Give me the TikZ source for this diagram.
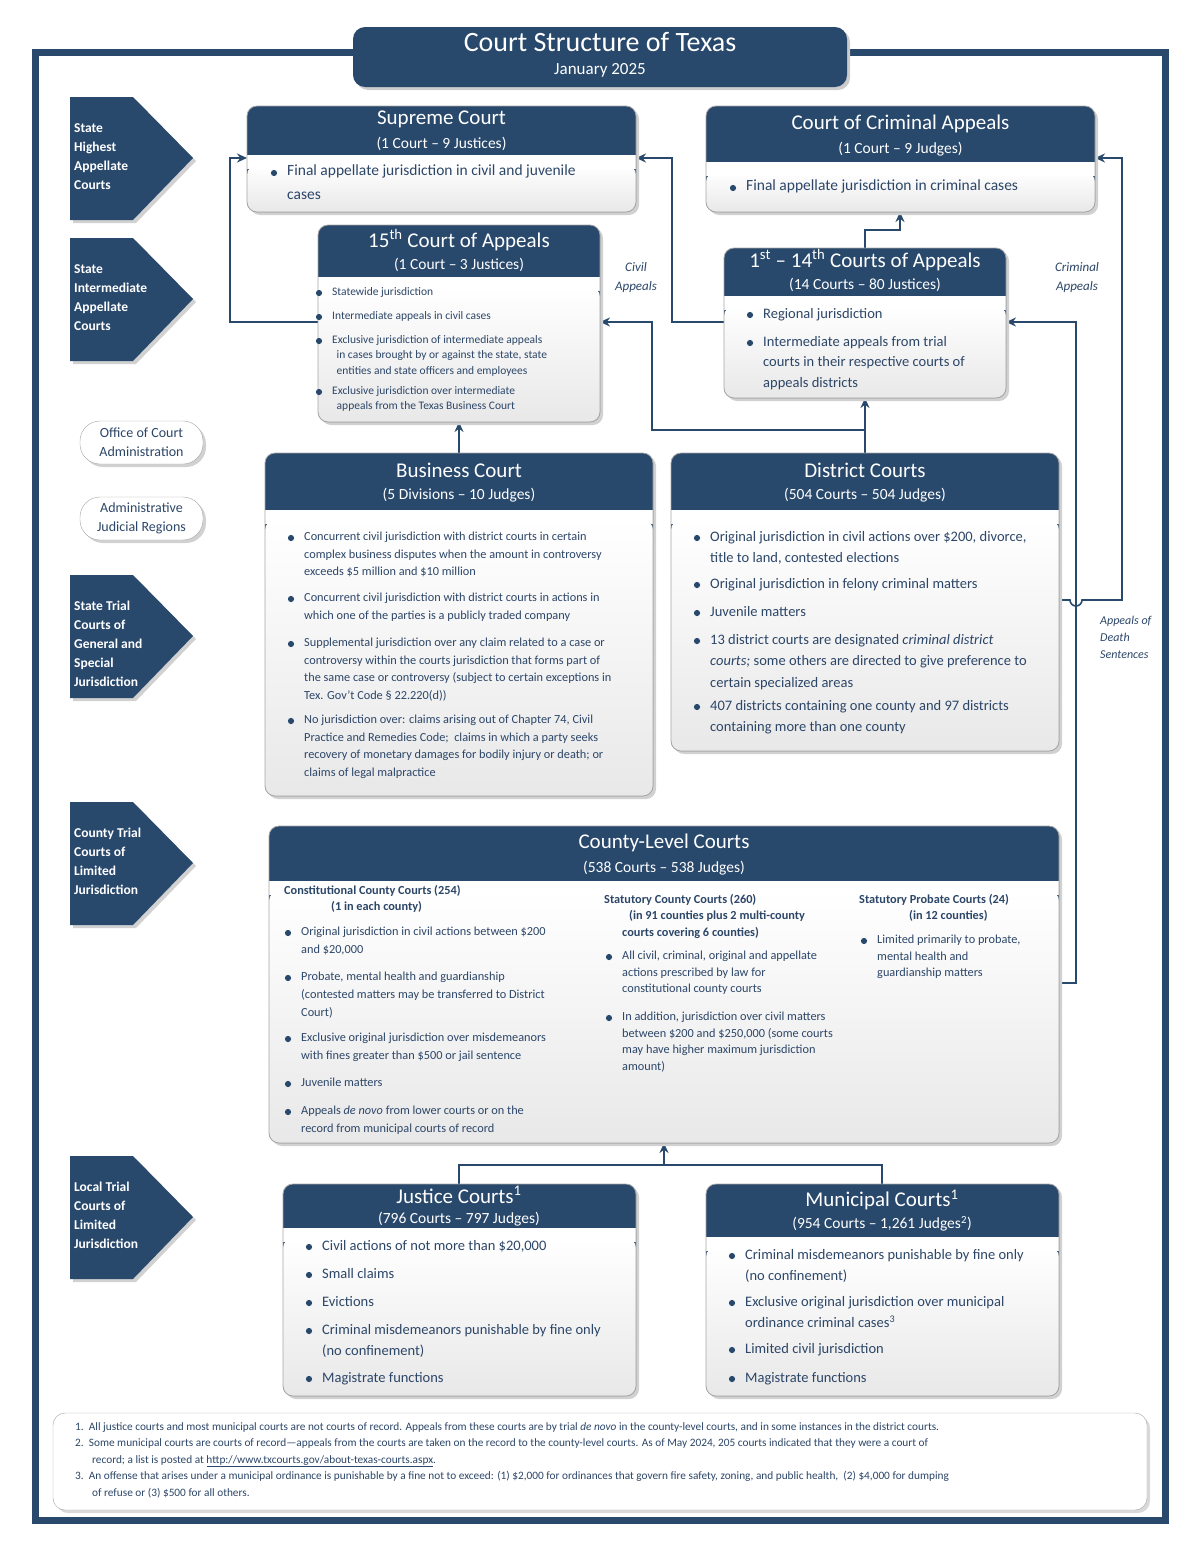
\documentclass[tikz,border=0pt]{standalone}
\usepackage{fontspec}
\setmainfont{Carlito}
\usetikzlibrary{arrows.meta}
\definecolor{hdr}{RGB}{40,72,108}
\definecolor{txc}{RGB}{44,70,104}
\tikzset{
 arr/.style={draw=hdr,line width=1.6pt,-{Stealth[length=10pt,width=9pt]}},
 ln/.style={draw=hdr,line width=1.6pt},
 tx/.style={inner sep=0pt,text=txc,align=left,anchor=north west},
 ht/.style={text=white,inner sep=0pt},
 chev/.style={fill=hdr},
}
% bullet: x y offset font text
\newcommand\bl[5]{\fill[hdr] ({#1-13},{#2}) circle (3.1);
 \node[tx,font=#4] at ({#1},{#2-#3}) {#5};}
\newcommand\cbox[5]{%
 \fill[black!18,rounded corners=10] ({#1+3},{#2+3}) rectangle ({#4+3},{#5+3});
 \fill[hdr,rounded corners=10] (#1,#2) rectangle (#4,#5);
 \shade[top color=white,bottom color=black!9,rounded corners=10] (#1,{#3+10}) rectangle (#4,#5);
 \fill[white] (#1,#3) rectangle (#4,{#3+14});
 \draw[black!35,line width=0.8pt,rounded corners=10] (#1,#2) rectangle (#4,#5);}
\newcommand\chv[2]{%
 \fill[black!18] (73,{#1+3}) -- (136,{#1+3}) -- (196,{#1+64}) -- (136,{#1+126}) -- (73,{#1+126}) -- cycle;
 \fill[hdr] (70,#1) -- (133,#1) -- (193,{#1+61}) -- (133,{#1+123}) -- (70,{#1+123}) -- cycle;
 \node[ht,anchor=north west,align=left,font=\fontsize{13.5}{19}\selectfont\bfseries] at (74,{#1+26}) {#2};}
\begin{document}
\begin{tikzpicture}[x=1pt,y=-1pt]
\useasboundingbox (0,0) rectangle (1200,1553);
% outer frame
\draw[hdr,line width=7pt] (35,52) rectangle (1165,1520);
% title
\fill[black!20,rounded corners=12] (356,30) rectangle (850,90);
\fill[hdr,rounded corners=12] (353,27) rectangle (847,87);
\node[ht,font=\fontsize{28}{30}\selectfont] (title) at (600,42) {Court Structure of Texas};
\node[ht,font=\fontsize{17}{20}\selectfont] (date) at (600,70) {January 2025};
% chevrons
\chv{97}{State\\Highest\\Appellate\\Courts}
\chv{238}{State\\Intermediate\\Appellate\\Courts}
\chv{575}{State Trial\\Courts of\\General and\\Special\\Jurisdiction}
\chv{802}{County Trial\\Courts of\\Limited\\Jurisdiction}
\chv{1156}{Local Trial\\Courts of\\Limited\\Jurisdiction}
% ovals
\foreach \yy/\t/\nm in {421/{Office of Court\\Administration}/oca,497/{Administrative\\Judicial Regions}/ajr}{
 \fill[black!18,rounded corners=20] (83,\yy+3) rectangle (206,\yy+46);
 \draw[black!35,fill=white,rounded corners=20] (80,\yy) rectangle (203,\yy+43);
 \node[text=txc,align=center,font=\fontsize{14}{19}\selectfont,inner sep=0] (\nm) at (141.5,\yy+21.5) {\t};}
% ===== connectors
\coordinate (sc) at (247,158); \coordinate (scr) at (636,158);
\coordinate (cca) at (1095,158); \coordinate (ccab) at (900,212);
\draw[arr] (318,322) -- (230,322) -- (230,158) -- (sc);
\draw[arr] (724,322) -- (672,322) -- (672,158) -- (scr);
\draw[arr] (865,248) -- (865,230) -- (900,230) -- (ccab);
\draw[arr] (865,453) -- (865,398);
\draw[arr] (865,430) -- (652,430) -- (652,322) -- (600,322);
\draw[arr] (459,453) -- (459,422);
\draw[arr] (1059,600) -- (1070,600) arc (180:0:6) -- (1122,600) -- (1122,158) -- (cca);
\draw[arr] (1059,983) -- (1076,983) -- (1076,322) -- (1006,322);
\draw[ln] (459,1184) -- (459,1165) -- (882,1165) -- (882,1184);
\draw[arr] (664,1165) -- (664,1143);
% side labels
\node[text=txc,align=center,font=\fontsize{13}{19}\selectfont\itshape,inner sep=0] (civ) at (636,278) {Civil\\Appeals};
\node[text=txc,align=center,font=\fontsize{13}{19}\selectfont\itshape,inner sep=0] (crim) at (1077,278) {Criminal\\Appeals};
\node[tx,font=\fontsize{12}{17}\selectfont\itshape] (death) at (1100,616) {Appeals of\\Death\\Sentences};
% ===== Supreme
\cbox{247}{106}{155}{636}{212}
\node[ht,font=\fontsize{21}{24}\selectfont] (supT) at (441.5,119) {Supreme Court};
\node[ht,font=\fontsize{15.5}{18}\selectfont] at (441.5,144) {(1 Court -- 9 Justices)};
\def\fA{\fontsize{15.5}{24}\selectfont}
\bl{287}{173}{8}{\fA}{Final appellate jurisdiction in civil and juvenile\\cases}
% ===== CCA
\cbox{706}{106}{162}{1095}{212}
\node[ht,font=\fontsize{21}{24}\selectfont] (ccaT) at (900.5,124) {Court of Criminal Appeals};
\node[ht,font=\fontsize{15.5}{18}\selectfont] at (900.5,149) {(1 Court -- 9 Judges)};
\bl{746}{188}{8}{\fA}{Final appellate jurisdiction in criminal cases}
% ===== 15th
\cbox{318}{225}{277}{600}{422}
\node[ht,font=\fontsize{21}{24}\selectfont] (fT) at (459,240) {15\textsuperscript{th} Court of Appeals};
\node[ht,font=\fontsize{15.5}{18}\selectfont] at (459,265) {(1 Court -- 3 Justices)};
\def\fB{\fontsize{11.5}{15.5}\selectfont}
\bl{332}{293}{6}{\fB}{Statewide jurisdiction}
\bl{332}{317}{6}{\fB}{Intermediate appeals in civil cases}
\bl{332}{341}{6}{\fB}{Exclusive jurisdiction of intermediate appeals\\\ \,in cases brought by or against the state, state\\\ \,entities and state officers and employees}
\bl{332}{392}{6}{\fB}{Exclusive jurisdiction over intermediate\\\ \,appeals from the Texas Business Court}
% ===== 1st-14th
\cbox{724}{248}{296}{1006}{398}
\node[ht,font=\fontsize{21}{24}\selectfont] (aT) at (865,260) {1\textsuperscript{st} -- 14\textsuperscript{th} Courts of Appeals};
\node[ht,font=\fontsize{15.5}{18}\selectfont] at (865,285) {(14 Courts -- 80 Justices)};
\def\fC{\fontsize{14.5}{20.5}\selectfont}
\bl{763}{315}{7}{\fC}{Regional jurisdiction}
\bl{763}{343}{7}{\fC}{Intermediate appeals from trial\\courts in their respective courts of\\appeals districts}
% ===== Business
\cbox{265}{453}{510}{653}{796}
\node[ht,font=\fontsize{21}{24}\selectfont] (bT) at (459,470) {Business Court};
\node[ht,font=\fontsize{15.5}{18}\selectfont] at (459,495) {(5 Divisions -- 10 Judges)};
\def\fD{\fontsize{12.3}{17.5}\selectfont}
\bl{304}{538}{6}{\fD}{Concurrent civil jurisdiction with district courts in certain\\complex business disputes when the amount in controversy\\exceeds \$5 million and \$10 million}
\bl{304}{599}{6}{\fD}{Concurrent civil jurisdiction with district courts in actions in\\which one of the parties is a publicly traded company}
\bl{304}{644}{6}{\fD}{Supplemental jurisdiction over any claim related to a case or\\controversy within the courts jurisdiction that forms part of\\the same case or controversy (subject to certain exceptions in\\Tex. Gov't Code § 22.220(d))}
\bl{304}{721}{6}{\fD}{No jurisdiction over: claims arising out of Chapter 74, Civil\\Practice and Remedies Code;\ \ claims in which a party seeks\\recovery of monetary damages for bodily injury or death; or\\claims of legal malpractice}
% ===== District
\cbox{671}{453}{510}{1059}{751}
\node[ht,font=\fontsize{21}{24}\selectfont] (dT) at (865,470) {District Courts};
\node[ht,font=\fontsize{15.5}{18}\selectfont] at (865,495) {(504 Courts -- 504 Judges)};
\def\fE{\fontsize{14.5}{21.5}\selectfont}
\bl{710}{538}{7}{\fE}{Original jurisdiction in civil actions over \$200, divorce,\\title to land, contested elections}
\bl{710}{585}{7}{\fE}{Original jurisdiction in felony criminal matters}
\bl{710}{613}{7}{\fE}{Juvenile matters}
\bl{710}{641}{7}{\fE}{13 district courts are designated \textit{criminal district}\\\textit{courts;} some others are directed to give preference to\\certain specialized areas}
\bl{710}{707}{7}{\fE}{407 districts containing one county and 97 districts\\containing more than one county}
% ===== County
\cbox{269}{826}{881}{1059}{1143}
\node[ht,font=\fontsize{21}{24}\selectfont] (cT) at (664,843) {County-Level Courts};
\node[ht,font=\fontsize{15.5}{18}\selectfont] at (664,868) {(538 Courts -- 538 Judges)};
\def\fF{\fontsize{12.3}{18}\selectfont}
\def\fG{\fontsize{12.3}{16.5}\selectfont\bfseries}
\node[tx,font=\fG] (c1) at (284,885) {Constitutional County Courts (254)\\\hspace*{47pt}(1 in each county)};
\bl{301}{933}{6}{\fF}{Original jurisdiction in civil actions between \$200\\and \$20,000}
\bl{301}{978}{6}{\fF}{Probate, mental health and guardianship\\(contested matters may be transferred to District\\Court)}
\bl{301}{1039}{6}{\fF}{Exclusive original jurisdiction over misdemeanors\\with fines greater than \$500 or jail sentence}
\bl{301}{1084}{6}{\fF}{Juvenile matters}
\bl{301}{1112}{6}{\fF}{Appeals \textit{de novo} from lower courts or on the\\record from municipal courts of record}
\node[tx,font=\fG] (c2) at (604,894) {Statutory County Courts (260)\\\hspace*{25pt}(in 91 counties plus 2 multi-county\\\hspace*{18pt}courts covering 6 counties)};
\def\fH{\fontsize{12.3}{16.5}\selectfont}
\bl{622}{957}{6}{\fH}{All civil, criminal, original and appellate\\actions prescribed by law for\\constitutional county courts}
\bl{622}{1018}{6}{\fH}{In addition, jurisdiction over civil matters\\between \$200 and \$250,000 (some courts\\may have higher maximum jurisdiction\\amount)}
\node[tx,font=\fG] (c3) at (859,894) {Statutory Probate Courts (24)\\\hspace*{50pt}(in 12 counties)};
\bl{877}{941}{6}{\fH}{Limited primarily to probate,\\mental health and\\guardianship matters}
% ===== Justice
\cbox{283}{1184}{1228}{636}{1396}
\node[ht,font=\fontsize{21}{24}\selectfont] (jT) at (459,1195) {Justice Courts\textsuperscript{1}};
\node[ht,font=\fontsize{15.5}{18}\selectfont] at (459,1219) {(796 Courts -- 797 Judges)};
\def\fI{\fontsize{14.5}{21.5}\selectfont}
\bl{322}{1247}{7}{\fI}{Civil actions of not more than \$20,000}
\bl{322}{1275}{7}{\fI}{Small claims}
\bl{322}{1303}{7}{\fI}{Evictions}
\bl{322}{1331}{7}{\fI}{Criminal misdemeanors punishable by fine only\\(no confinement)}
\bl{322}{1379}{7}{\fI}{Magistrate functions}
% ===== Municipal
\cbox{706}{1184}{1237}{1059}{1396}
\node[ht,font=\fontsize{21}{24}\selectfont] (mT) at (882,1200) {Municipal Courts\textsuperscript{1}};
\node[ht,font=\fontsize{15.5}{18}\selectfont] at (882,1224) {(954 Courts -- 1,261 Judges\textsuperscript{2})};
\bl{745}{1256}{7}{\fI}{Criminal misdemeanors punishable by fine only\\(no confinement)}
\bl{745}{1303}{7}{\fI}{Exclusive original jurisdiction over municipal\\ordinance criminal cases\textsuperscript{3}}
\bl{745}{1350}{7}{\fI}{Limited civil jurisdiction}
\bl{745}{1379}{7}{\fI}{Magistrate functions}
% ===== footnotes
\fill[black!15,rounded corners=12] (56,1416) rectangle (1150,1513);
\draw[black!35,fill=white,rounded corners=12] (53,1413) rectangle (1147,1510);
\node[tx,font=\fontsize{11.3}{16.5}\selectfont] (fn) at (75,1422) {%
1.\ \ All justice courts and most municipal courts are not courts of record. Appeals from these courts are by trial \textit{de novo} in the county-level courts, and in some instances in the district courts.\\
2.\ \ Some municipal courts are courts of record---appeals from the courts are taken on the record to the county-level courts. As of May 2024, 205 courts indicated that they were a court of\\
\hspace*{17pt}record; a list is posted at \underline{http://www.txcourts.gov/about-texas-courts.aspx}.\\
3.\ \ An offense that arises under a municipal ordinance is punishable by a fine not to exceed: (1) \$2,000 for ordinances that govern fire safety, zoning, and public health,\ \ (2) \$4,000 for dumping\\
\hspace*{17pt}of refuse or (3) \$500 for all others.};
\end{tikzpicture}
\end{document}
